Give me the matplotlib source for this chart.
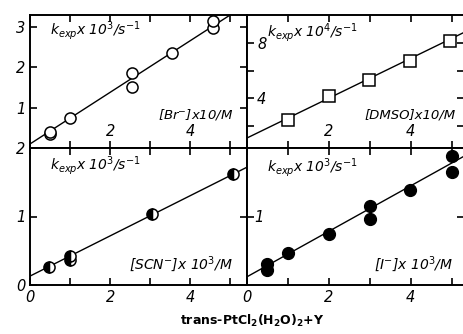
import numpy as np
import matplotlib.pyplot as plt
from matplotlib.ticker import FixedLocator

# values
br_x = [0.5, 0.5, 1.0, 2.55, 2.55, 3.55, 4.58, 4.58]
br_y = [0.35, 0.40, 0.75, 1.85, 1.52, 2.35, 2.97, 3.15]
br_fit_x = [0, 5.42]
br_fit_y = [0.10, 3.57]

dmso_x = [1.0, 2.0, 2.98, 3.98, 4.95]
dmso_y = [2.44, 4.15, 5.33, 6.74, 8.15]
dmso_fit_x = [0, 5.3]
dmso_fit_y = [1.1, 8.8]

scn_x = [0.48, 1.0, 1.0, 3.04, 5.08]
scn_y = [0.26, 0.36, 0.43, 1.04, 1.62]
scn_fit_x = [0, 5.42]
scn_fit_y = [0.13, 1.72]

i_x = [0.49, 0.49, 1.0, 2.0, 3.0, 3.0, 3.98, 5.0, 5.0]
i_y = [0.22, 0.30, 0.46, 0.74, 1.15, 0.97, 1.38, 1.88, 1.65]
i_fit_x = [0, 5.3]
i_fit_y = [0.12, 1.88]

W, H = 464, 334
fig = plt.figure(figsize=(W / 100, H / 100), dpi=100)

x_l, x_m, x_r = 30, 247, 464
y_t, y_m, y_b = 15, 148, 285


def box(x0, x1, y0, y1):
    return [x0 / W, 1 - y1 / H, (x1 - x0) / W, (y1 - y0) / H]


ax_br = fig.add_axes(box(x_l, x_m, y_t, y_m))
ax_dm = fig.add_axes(box(x_m, x_r, y_t, y_m))
ax_scn = fig.add_axes(box(x_l, x_m, y_m, y_b))
ax_i = fig.add_axes(box(x_m, x_r, y_m, y_b))

lab_font = dict(fontsize=10, fontstyle='italic')

for ax in (ax_br, ax_dm, ax_scn, ax_i):
    for s in ax.spines.values():
        s.set_linewidth(1.4)
    ax.tick_params(which='both', direction='in', top=True, right=True,
                   length=5, width=1.2, labelsize=10.5)
    ax.xaxis.set_major_locator(FixedLocator([0, 2, 4]))
    ax.xaxis.set_minor_locator(FixedLocator([1, 3, 5]))

ax_dm.spines['right'].set_visible(False)
ax_i.spines['right'].set_visible(False)

# top left: Br-
ax_br.plot(br_fit_x, br_fit_y, color='black', lw=1.0)
ax_br.plot(br_x, br_y, 'o', ms=8, mfc='white', mec='black', mew=1.1)
ax_br.set_xlim(0, 5.42)
ax_br.set_ylim(0, 3.3)
ax_br.set_yticks([1, 2, 3])
ax_br.set_xticklabels(['', '2', '4'])
ax_br.tick_params(axis='x', pad=-17)
ax_br.text(0.935, 0.25, r'[Br$^{-}$]x10/M', transform=ax_br.transAxes,
           va='center', ha='right', fontsize=9.5, fontstyle='italic')
ax_br.text(0.09, 0.88, r'$k_{exp}$x 10$^3$/s$^{-1}$', transform=ax_br.transAxes,
           va='center', ha='left', **lab_font)

# top right: DMSO
ax_dm.plot(dmso_fit_x, dmso_fit_y, color='black', lw=1.0)
ax_dm.plot(dmso_x, dmso_y, 's', ms=8, mfc='white', mec='black', mew=1.1)
ax_dm.set_xlim(0, 5.3)
ax_dm.set_ylim(0.37, 10.07)
ax_dm.yaxis.set_major_locator(FixedLocator([4, 8]))
ax_dm.yaxis.set_minor_locator(FixedLocator([2, 6]))
ax_dm.tick_params(axis='y', which='both', pad=-14)
ax_dm.set_xticklabels(['', '2', '4'])
ax_dm.tick_params(axis='x', pad=-17)
ax_dm.text(0.09, 0.87, r'$k_{exp}$x 10$^4$/s$^{-1}$', transform=ax_dm.transAxes,
           va='center', ha='left', **lab_font)
ax_dm.text(0.96, 0.25, '[DMSO]x10/M', transform=ax_dm.transAxes,
           va='center', ha='right', fontsize=9.5, fontstyle='italic')

# bottom left: SCN-
ax_scn.plot(scn_fit_x, scn_fit_y, color='black', lw=1.0)
ax_scn.plot(scn_x, scn_y, 'o', ms=8, fillstyle='left', mfc='black',
            mfcalt='white', mec='black', mew=1.1)
ax_scn.set_xlim(0, 5.42)
ax_scn.set_ylim(0, 2)
ax_scn.set_yticks([0, 1, 2])
ax_scn.text(0.09, 0.87, r'$k_{exp}$x 10$^3$/s$^{-1}$', transform=ax_scn.transAxes,
            va='center', ha='left', **lab_font)
ax_scn.text(0.935, 0.15, r'[SCN$^{-}$]x 10$^3$/M', transform=ax_scn.transAxes,
            va='center', ha='right', **lab_font)

# bottom right: I-
ax_i.plot(i_fit_x, i_fit_y, color='black', lw=1.0)
ax_i.plot(i_x, i_y, 'o', ms=8.5, mfc='black', mec='black')
ax_i.set_xlim(0, 5.3)
ax_i.set_ylim(0, 2)
ax_i.set_yticks([1])
ax_i.tick_params(axis='y', pad=-12)
ax_i.text(0.09, 0.86, r'$k_{exp}$x 10$^3$/s$^{-1}$', transform=ax_i.transAxes,
          va='center', ha='left', **lab_font)
ax_i.text(0.95, 0.15, r'[I$^{-}$]x 10$^3$/M', transform=ax_i.transAxes,
          va='center', ha='right', **lab_font)

for ax in (ax_br, ax_dm, ax_scn, ax_i):
    for t in ax.get_xticklabels() + ax.get_yticklabels():
        t.set_fontstyle('italic')

fig.text(252 / W, 1 - 321 / H, r'trans-PtCl$_\mathbf{2}$(H$_\mathbf{2}$O)$_\mathbf{2}$+Y',
         ha='center', va='center', fontsize=9, fontweight='bold')

fig.savefig('out.png', dpi=100)
